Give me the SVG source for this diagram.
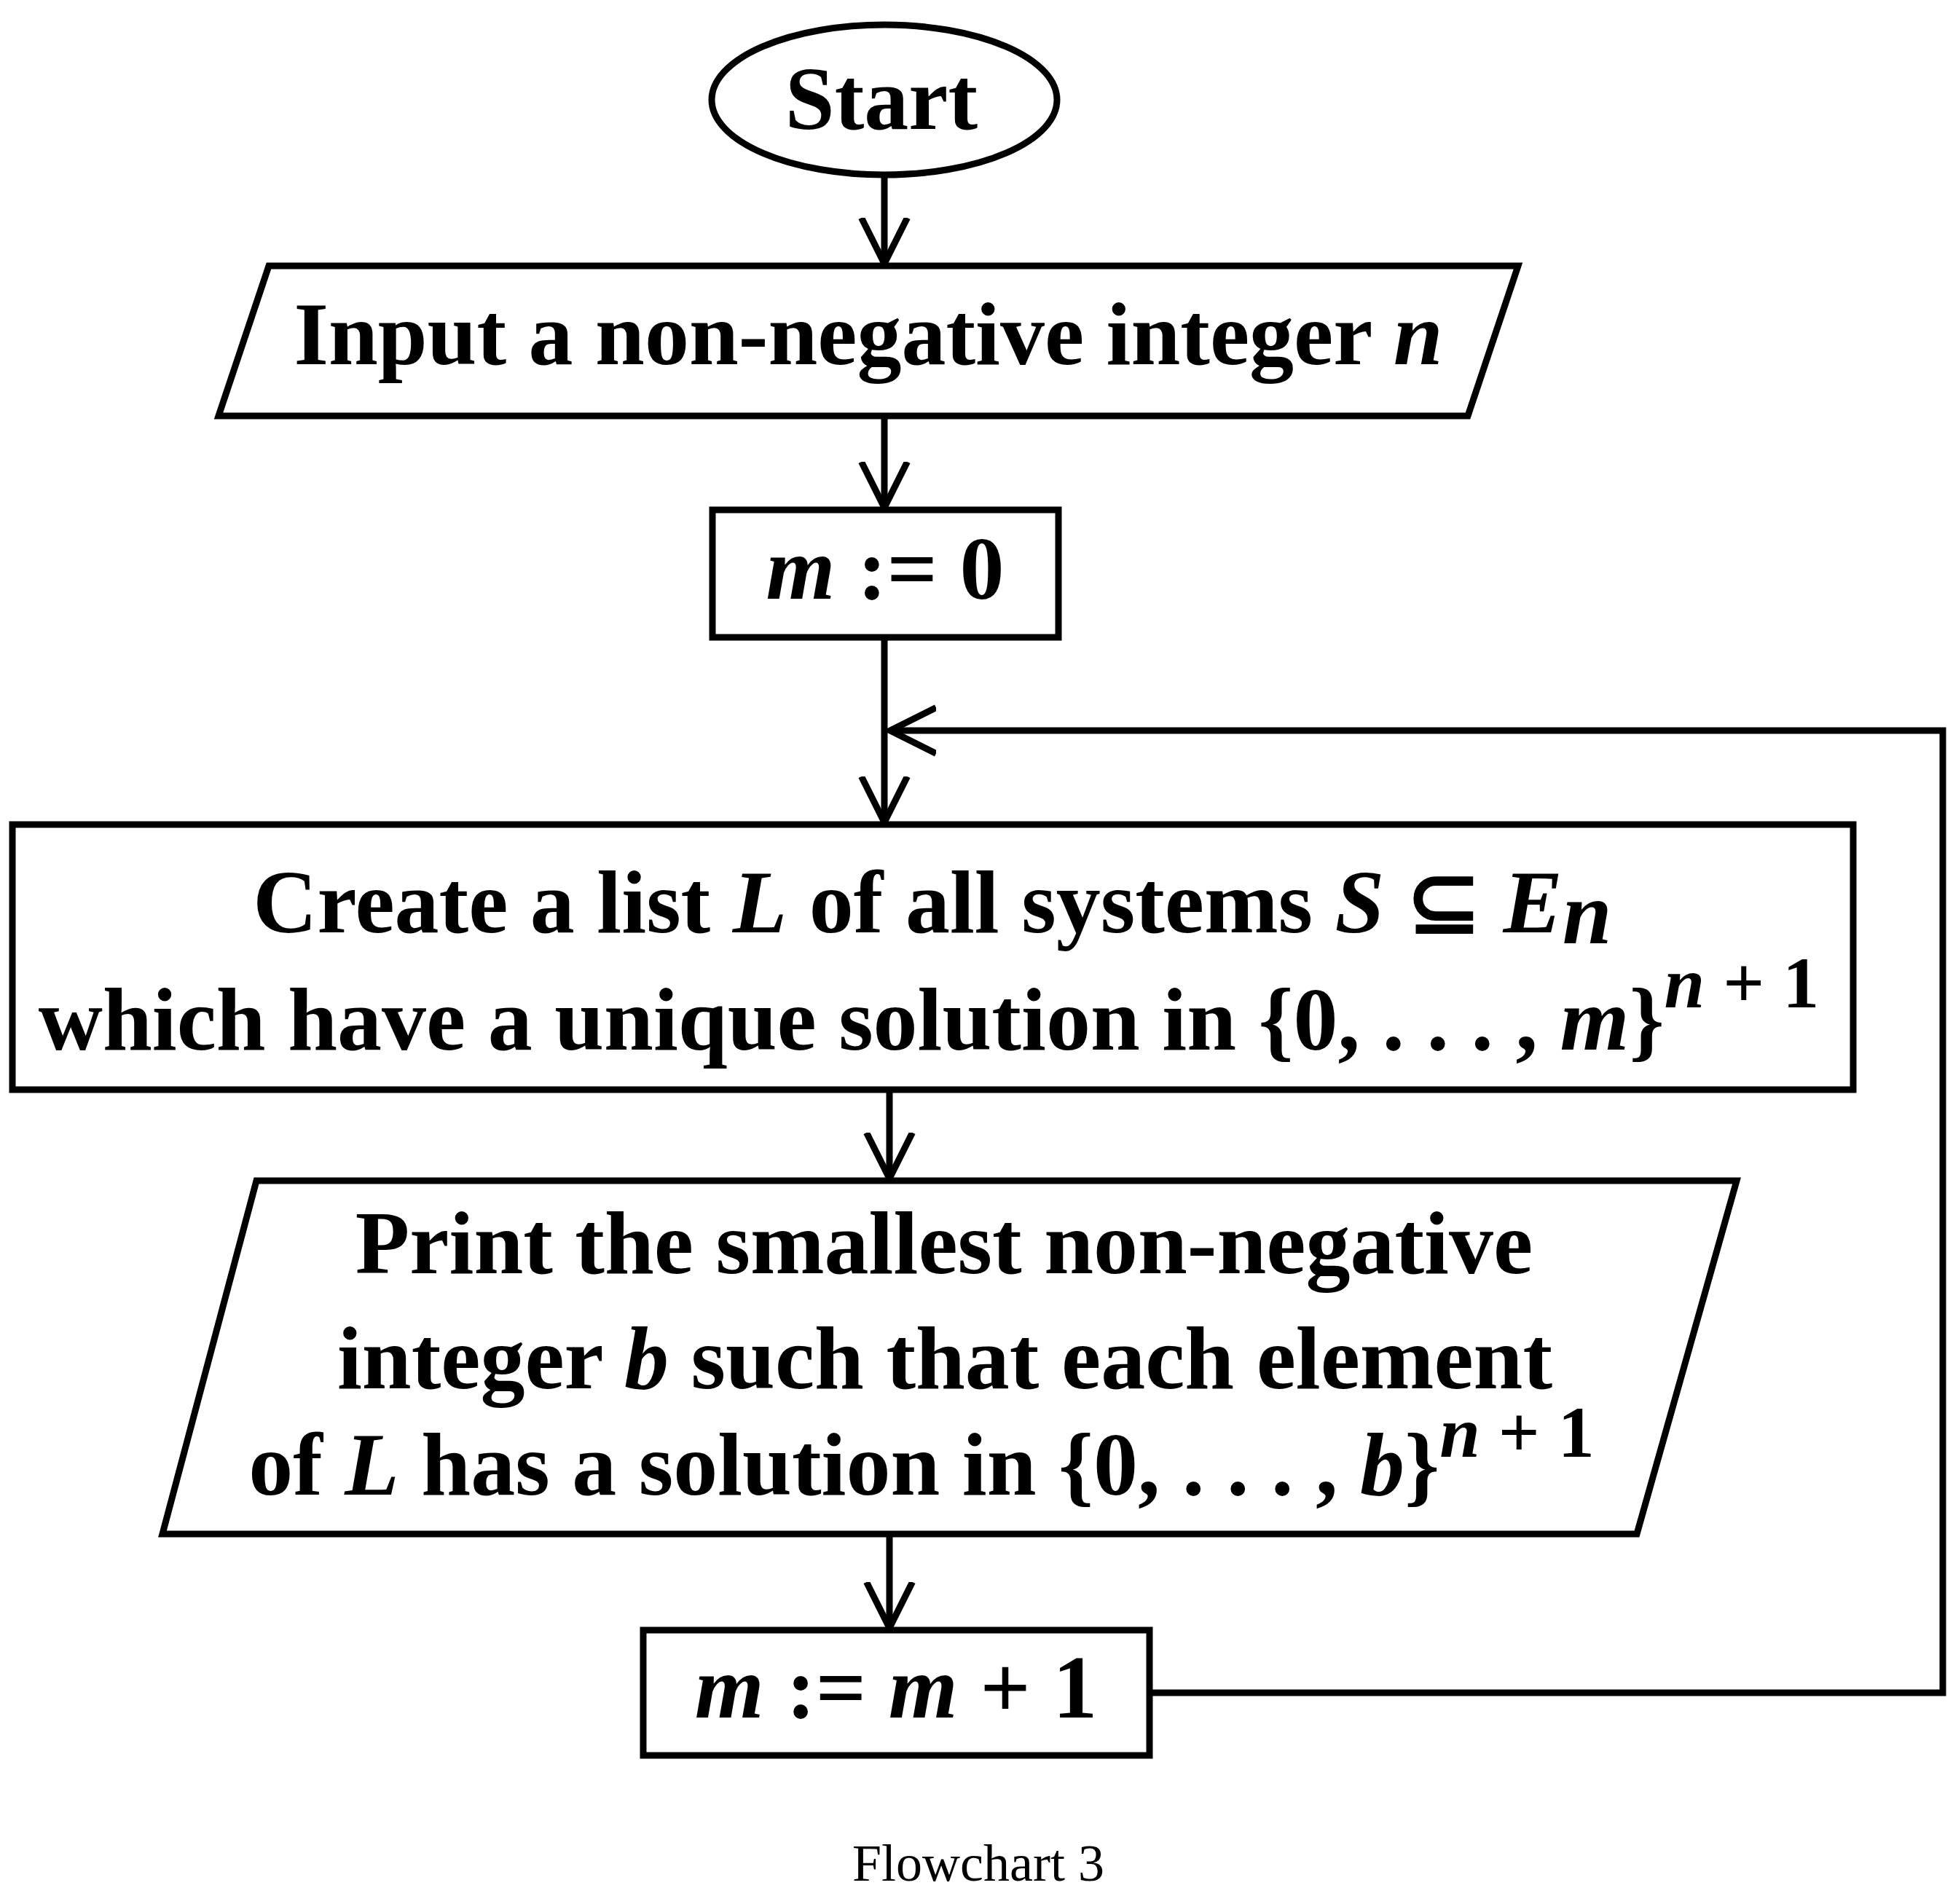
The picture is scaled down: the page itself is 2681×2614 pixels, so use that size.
<svg xmlns="http://www.w3.org/2000/svg" width="2681" height="2614" viewBox="0 0 2681 2614">
<style>
.s{fill:#fff;stroke:#000;stroke-width:9}
.t{font-family:"Liberation Serif",serif;font-weight:bold;font-size:122px;text-anchor:middle;fill:#000}
.i{font-style:italic}
.c{stroke:#000;stroke-width:9;fill:none}
</style>
<defs><marker id="a" markerWidth="8" markerHeight="8" refX="7" refY="4" orient="auto" markerUnits="strokeWidth"><path d="M0,0.5 L7,4 L0,7.5" fill="none" stroke="#000" stroke-width="1"/></marker></defs>
<rect width="2681" height="2614" fill="#fff"/>
<g id="connectors">
<line class="c" x1="1214" y1="240" x2="1214" y2="362" marker-end="url(#a)"/>
<line class="c" x1="1214" y1="571" x2="1214" y2="697" marker-end="url(#a)"/>
<line class="c" x1="1214" y1="875" x2="1214" y2="1129" marker-end="url(#a)"/>
<polyline class="c" points="1578,2324 2667,2324 2667,1003 1222,1003" marker-end="url(#a)"/>
<line class="c" x1="1221" y1="1496" x2="1221" y2="1618" marker-end="url(#a)"/>
<line class="c" x1="1221" y1="2108" x2="1221" y2="2235" marker-end="url(#a)"/>
</g>
<g id="start"><ellipse class="s" cx="1214" cy="137" rx="237" ry="103"/><text class="t" x="1210" y="177">Start</text></g>
<g id="input"><polygon class="s" points="369,365 2084,365 2015,571 300,571"/><text class="t" x="1192" y="500">Input a non-negative integer <tspan class="i">n</tspan></text></g>
<g id="init"><rect class="s" x="978" y="700" width="475" height="175"/><text class="t" x="1215" y="822"><tspan class="i">m</tspan> := 0</text></g>
<g id="create"><rect class="s" x="17" y="1132" width="2527" height="364"/>
<text class="t" x="1280" y="1280">Create a list <tspan class="i">L</tspan> of all systems <tspan class="i">S</tspan> ⊆ <tspan class="i">E<tspan dy="15">n</tspan></tspan></text>
<text class="t" x="1275" y="1441">which have a unique solution in {0, . . . , <tspan class="i">m</tspan>}<tspan dy="-58" font-size="100"><tspan class="i">n</tspan> + 1</tspan></text></g>
<g id="print"><polygon class="s" points="352,1621 2384,1621 2247,2106 223,2106"/>
<text class="t" x="1296" y="1748">Print the smallest non-negative</text>
<text class="t" x="1297" y="1906">integer <tspan class="i">b</tspan>  such that each element</text>
<text class="t" x="1265" y="2052">of <tspan class="i">L</tspan>  has a solution in {0, . . . , <tspan class="i">b</tspan>}<tspan dy="-52" font-size="100"><tspan class="i">n</tspan> + 1</tspan></text></g>
<g id="incr"><rect class="s" x="883" y="2238" width="695" height="172"/><text class="t" x="1230" y="2358"><tspan class="i">m</tspan> := <tspan class="i">m</tspan> + 1</text></g>
<text x="1343" y="2582" font-family="Liberation Serif,serif" font-size="72" text-anchor="middle">Flowchart 3</text>
</svg>
